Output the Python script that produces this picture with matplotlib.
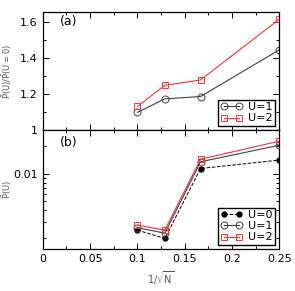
import matplotlib
matplotlib.use('Agg')
import matplotlib.pyplot as plt
from matplotlib.ticker import MultipleLocator, FixedLocator, NullFormatter, FuncFormatter

# x = 1/sqrt(N)
x = [0.1, 0.129, 0.1667, 0.25]

# panel (a): ratio P(U)/P(U=0)
ratio_u1 = [1.098, 1.173, 1.186, 1.445]
ratio_u2 = [1.131, 1.248, 1.278, 1.615]

# panel (b): P(U)
p_u0 = [0.00242, 0.00196, 0.0114, 0.0141]
p_u1 = [0.00257, 0.00224, 0.0135, 0.0205]
p_u2 = [0.00274, 0.00242, 0.0144, 0.0227]

red = '#ff3030'
gray = '#404040'

plt.rcParams['font.family'] = 'DejaVu Sans'
plt.rcParams['mathtext.default'] = 'regular'
fig = plt.figure(figsize=(2.95, 2.91), dpi=100)
ax1 = fig.add_axes([0.145, 0.553, 0.802, 0.406])
ax2 = fig.add_axes([0.145, 0.144, 0.802, 0.409])

leg_kw = dict(loc='lower right', numpoints=2, fontsize=8, fancybox=False, edgecolor='black',
              framealpha=1, handlelength=2.0, borderpad=0.2, labelspacing=0.1,
              handletextpad=0.5, borderaxespad=0.4)

# (a)
ax1.plot(x, ratio_u1, '-o', color=gray, mfc='none', mec=gray, ms=5, lw=0.8, mew=0.7, label='U=1')
ax1.plot(x, ratio_u2, '-s', color=red, mfc='none', mec=red, ms=4.5, lw=0.8, mew=0.7, label='U=2')
ax1.set_xlim(0, 0.25)
ax1.set_ylim(1, 1.655)
ax1.yaxis.set_major_locator(MultipleLocator(0.2))
ax1.yaxis.set_minor_locator(MultipleLocator(0.1))
ax1.yaxis.set_major_formatter(FuncFormatter(lambda v, p: '%g' % round(v, 2)))
ax1.set_ylabel(r'$\bar{P}(U)/\bar{P}(U = 0)$', fontsize=6, color='#555555')
ax1.text(0.018, 1.6, '(a)', fontsize=9, va='center')
ax1.legend(**leg_kw)

# (b)
ax2.plot(x, p_u0, '--o', color='black', ms=3.5, lw=0.7, label='U=0')
ax2.plot(x, p_u1, '-o', color=gray, mfc='none', mec=gray, ms=5, lw=0.8, mew=0.7, label='U=1')
ax2.plot(x, p_u2, '-s', color=red, mfc='none', mec=red, ms=4.5, lw=0.8, mew=0.7, label='U=2')
ax2.set_yscale('log')
ax2.set_xlim(0, 0.25)
ax2.set_ylim(0.0015, 0.03)
ax2.yaxis.set_major_locator(FixedLocator([0.01]))
ax2.yaxis.set_major_formatter(FuncFormatter(lambda v, p: '0.01'))
ax2.yaxis.set_minor_locator(FixedLocator([0.002, 0.003, 0.004, 0.005, 0.006, 0.007, 0.008, 0.009, 0.02, 0.03]))
ax2.yaxis.set_minor_formatter(NullFormatter())
ax2.set_ylabel(r'$\bar{P}(U)$', fontsize=6, color='#555555')
ax2.set_xlabel(r'$1/\sqrt{N}$', fontsize=7, color='#555555')
ax2.text(0.018, 0.022, '(b)', fontsize=9, va='center')
ax2.legend(**leg_kw)

for ax in (ax1, ax2):
    ax.xaxis.set_major_locator(MultipleLocator(0.05))
    ax.xaxis.set_minor_locator(MultipleLocator(0.025))
    ax.xaxis.set_major_formatter(FuncFormatter(lambda v, p: '%g' % round(v, 3)))
    ax.tick_params(which='both', direction='in', top=True, right=True, labelsize=8, width=0.7)
    ax.tick_params(which='major', length=4)
    ax.tick_params(which='minor', length=2.5)
    ax.yaxis.set_label_coords(-0.12, 0.5)
    for s in ax.spines.values():
        s.set_linewidth(0.9)
ax1.tick_params(labelbottom=False)

fig.savefig('out.png', dpi=100)
